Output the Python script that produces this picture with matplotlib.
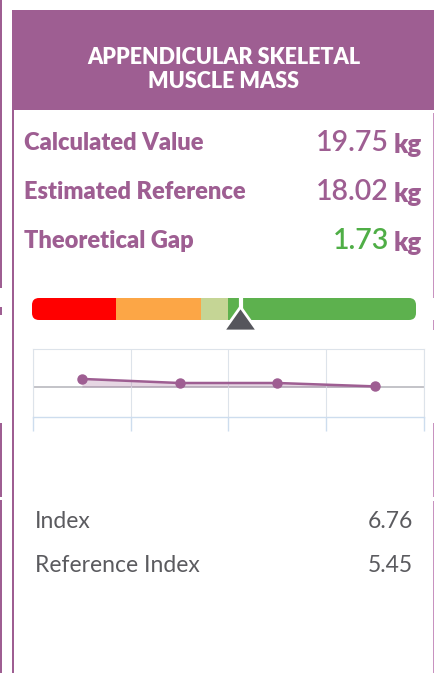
import matplotlib

matplotlib.use("Agg")

import matplotlib.pyplot as plt
from matplotlib.patches import Rectangle, FancyBboxPatch, Polygon

plt.rcParams["font.family"] = ["Lato", "DejaVu Sans"]

# --- data ---
title_lines = ["APPENDICULAR SKELETAL", "MUSCLE MASS"]
row_labels = ["Calculated Value", "Estimated Reference", "Theoretical Gap"]
row_values = [19.75, 18.02, 1.73]
row_unit = "kg"
gauge_bounds = [0.0, 22.0, 44.0, 51.0, 100.0]  # red, orange, light green, green
gauge_colors = ["#ff0000", "#fca646", "#c5d595", "#5db14e"]
gauge_marker = 54.3
trend_x = [0, 1, 2, 3]
trend_y = [0.24, 0.12, 0.12, 0.02]
index_labels = ["Index", "Reference Index"]
index_values = [6.76, 5.45]

PURPLE = "#9e5e92"
LIGHT_PURPLE = "#c892c0"
GREEN = "#4fae46"
GREY_TEXT = "#5b5b5f"

W, H = 435, 673
fig = plt.figure(figsize=(W / 100, H / 100), dpi=100)
fig.patch.set_facecolor("white")

# pixel canvas for the card chrome (drawn on top of the small axes)
bg = fig.add_axes([0, 0, 1, 1])
bg.set_xlim(0, W)
bg.set_ylim(H, 0)
bg.axis("off")
bg.set_zorder(5)

# neighbour card borders
for y0, y1 in [(0, 288), (307, 315), (423, 497), (500, H)]:
    bg.add_patch(Rectangle((0, y0), 2, y1 - y0, color=PURPLE, lw=0))
for y0, y1 in [(113, 298), (320, 330), (423, 497), (501, H)]:
    bg.add_patch(Rectangle((433, y0), 1.5, y1 - y0, color=LIGHT_PURPLE, lw=0))

# card header and left border
bg.add_patch(Rectangle((12, 10), W - 12, 100, color=PURPLE, lw=0))
bg.add_patch(Rectangle((12, 110), 2.2, H - 110, color=PURPLE, lw=0))
for i, line in enumerate(title_lines):
    bg.text(224, 57 + i * 24, line, ha="center", va="center", color="white",
            fontsize=15.5, fontweight="heavy")

# value rows
for i, (lab, val) in enumerate(zip(row_labels, row_values)):
    y = 143 + i * 49
    bg.text(24, y, lab, ha="left", va="center", color=PURPLE, fontsize=17,
            fontweight="heavy")
    bg.text(389, y, f"{val:.2f}", ha="right", va="center",
            color=GREEN if i == 2 else PURPLE, fontsize=20.5, fontweight="semibold")
    bg.text(394, y + 2, row_unit, ha="left", va="center", color=PURPLE,
            fontsize=18.5, fontweight="heavy")

# index rows
for i, (lab, val) in enumerate(zip(index_labels, index_values)):
    y = 522 + i * 43
    bg.text(35, y, lab, ha="left", va="center", color=GREY_TEXT, fontsize=16.5)
    bg.text(413, y, f"{val:.2f}", ha="right", va="center", color=GREY_TEXT,
            fontsize=16.5)

# gauge bar
gx0, gx1, gy0, gy1 = 32, 416, 298, 320
gauge = fig.add_axes([gx0 / W, 1 - gy1 / H, (gx1 - gx0) / W, (gy1 - gy0) / H])
gauge.set_xlim(0, 100)
gauge.set_ylim(0, 1)
gauge.axis("off")
clip = FancyBboxPatch((gx0, gy0), gx1 - gx0, gy1 - gy0,
                      boxstyle="round,pad=0,rounding_size=7",
                      facecolor="none", edgecolor="none", transform=bg.transData)
bg.add_patch(clip)
for a, b, c in zip(gauge_bounds[:-1], gauge_bounds[1:], gauge_colors):
    bars = gauge.barh(0.5, b - a, left=a, height=1, color=c, lw=0)
    for bar in bars:
        bar.set_clip_path(clip)

# marker (pixel units on the chrome canvas)
mx = gx0 + (gx1 - gx0) * gauge_marker / 100
bg.plot([mx, mx], [gy0, 309], color="white", lw=3, solid_capstyle="butt", zorder=5)
bg.add_patch(Polygon([[mx - 17, 331], [mx + 17, 331], [mx, 307]], closed=True,
                     facecolor="#55555c", edgecolor="white", lw=2.0, joinstyle="miter",
                     zorder=6))

# trend chart
cx0, cx1, cy0, cy1 = 33, 424, 349, 417
ax = fig.add_axes([cx0 / W, 1 - cy1 / H, (cx1 - cx0) / W, (cy1 - cy0) / H])
ax.set_xlim(-0.5, 3.5)
ax.set_ylim(-0.88, 1.12)
ax.set_facecolor("white")
for s in ("top", "right", "left"):
    ax.spines[s].set_color("#dde3ea")
    ax.spines[s].set_linewidth(0.8)
ax.spines["bottom"].set_color("#cdddee")
ax.spines["bottom"].set_linewidth(1.0)
ax.set_xticks([-0.5, 0.5, 1.5, 2.5, 3.5])
ax.set_xticklabels([])
ax.set_yticks([])
ax.tick_params(axis="x", length=10, color="#cdddee", width=1.0)
ax.grid(axis="x", color="#dde3ea", lw=0.8)
ax.axhline(0, color="#b9b9bf", lw=1.2, zorder=1)
ax.fill_between(trend_x, trend_y, 0, color=PURPLE, alpha=0.25, lw=0, zorder=2)
ax.plot(trend_x, trend_y, color=PURPLE, lw=1.8, marker="o", markersize=6.5, zorder=3)

fig.savefig("out.png", dpi=100, facecolor="white")
